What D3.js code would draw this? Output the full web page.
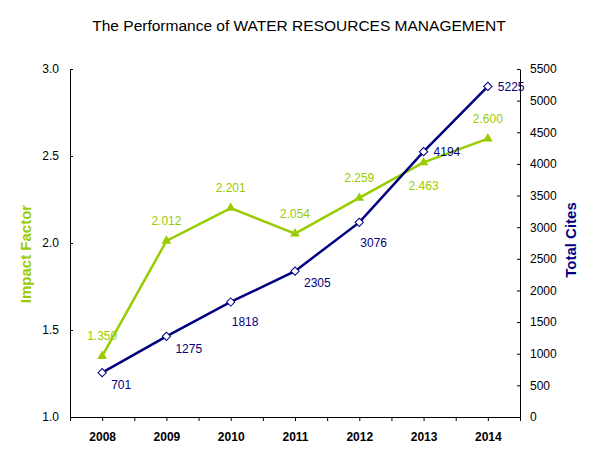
<!DOCTYPE html>
<html>
<head>
<meta charset="utf-8">
<script src="https://cdn.jsdelivr.net/npm/d3@7/dist/d3.min.js"></script>
<style>
  body { margin: 0; background: #fff; }
  svg { font-family: "Liberation Sans", Arial, sans-serif; }
</style>
</head>
<body>
<div id="chart"></div>
<script>

// Chart data
var years = ["2008", "2009", "2010", "2011", "2012", "2013", "2014"];
var impactFactor = [1.350, 2.012, 2.201, 2.054, 2.259, 2.463, 2.600];
var totalCites = [701, 1275, 1818, 2305, 3076, 4194, 5225];
var leftTicks = [1.0, 1.5, 2.0, 2.5, 3.0];
var rightTicks = [0, 500, 1000, 1500, 2000, 2500, 3000, 3500, 4000, 4500, 5000, 5500];

var green = "#99cc00";
var navy = "#000080";

var width = 599, height = 463;
var plotLeft = 70, plotRight = 520, plotTop = 69, plotBottom = 417;

var svg = d3.select("#chart").append("svg")
    .attr("width", width)
    .attr("height", height);

// Scales
var x = d3.scaleLinear().domain([-0.5, years.length - 0.5]).range([plotLeft, plotRight]);
var yLeft = d3.scaleLinear().domain([1, 3]).range([plotBottom, plotTop]);
var yRight = d3.scaleLinear().domain([0, 5500]).range([plotBottom, plotTop]);

// Title
svg.append("text")
    .attr("x", 299)
    .attr("y", 31)
    .attr("text-anchor", "middle")
    .style("font-size", "15.5px")
    .text("The Performance of WATER RESOURCES MANAGEMENT");

// Bottom axis: ticks at category edges and centres
var xAxis = d3.axisBottom(x)
    .tickValues(d3.range(-0.5, years.length, 0.5))
    .tickFormat(d => Number.isInteger(d) ? years[d] : "")
    .tickSizeInner(4)
    .tickSizeOuter(0)
    .tickPadding(11);

svg.append("g")
    .attr("transform", `translate(0,${plotBottom})`)
    .call(xAxis)
    .call(g => g.selectAll("text").style("font-size", "12px").style("font-weight", "bold"));

// Left axis
var leftAxis = d3.axisLeft(yLeft)
    .tickValues(leftTicks)
    .tickFormat(d3.format(".1f"))
    .tickSizeInner(-3)
    .tickSizeOuter(0)
    .tickPadding(11);

svg.append("g")
    .attr("transform", `translate(${plotLeft},0)`)
    .call(leftAxis)
    .call(g => g.selectAll("text").style("font-size", "12px"));

// Right axis
var rightAxis = d3.axisRight(yRight)
    .tickValues(rightTicks)
    .tickFormat(d3.format("d"))
    .tickSizeInner(-3)
    .tickSizeOuter(0)
    .tickPadding(10);

svg.append("g")
    .attr("transform", `translate(${plotRight},0)`)
    .call(rightAxis)
    .call(g => g.selectAll("text").style("font-size", "12px"));

svg.selectAll(".domain, .tick line").attr("stroke", "#000");
svg.selectAll(".tick text").attr("fill", "#000");

// Axis titles
svg.append("text")
    .attr("transform", "translate(31,254) rotate(-90)")
    .attr("text-anchor", "middle")
    .attr("fill", green)
    .style("font-size", "15px")
    .style("font-weight", "bold")
    .text("Impact Factor");

svg.append("text")
    .attr("transform", "translate(576,240) rotate(-90)")
    .attr("text-anchor", "middle")
    .attr("fill", navy)
    .style("font-size", "15px")
    .style("font-weight", "bold")
    .text("Total Cites");

// Impact Factor line
var lineLeft = d3.line()
    .x((d, i) => x(i))
    .y(d => yLeft(d));

svg.append("path")
    .datum(impactFactor)
    .attr("d", lineLeft)
    .attr("fill", "none")
    .attr("stroke", green)
    .attr("stroke-width", 2.5);

svg.selectAll(".tri")
    .data(impactFactor)
    .enter().append("path")
    .attr("class", "tri")
    .attr("d", d3.symbol().type(d3.symbolTriangle).size(40))
    .attr("transform", (d, i) => `translate(${x(i)},${yLeft(d)})`)
    .attr("fill", green);

// Total Cites line
var lineRight = d3.line()
    .x((d, i) => x(i))
    .y(d => yRight(d));

svg.append("path")
    .datum(totalCites)
    .attr("d", lineRight)
    .attr("fill", "none")
    .attr("stroke", navy)
    .attr("stroke-width", 2.5);

svg.selectAll(".dia")
    .data(totalCites)
    .enter().append("path")
    .attr("class", "dia")
    .attr("d", d3.symbol().type(d3.symbolSquare).size(34))
    .attr("transform", (d, i) => `translate(${x(i)},${yRight(d)}) rotate(45)`)
    .attr("fill", "#fff")
    .attr("stroke", navy)
    .attr("stroke-width", 1);

// Data labels: green above (2013 below), navy below-right (last two to the right)
svg.selectAll(".ifLabel")
    .data(impactFactor)
    .enter().append("text")
    .attr("class", "ifLabel")
    .attr("x", (d, i) => x(i))
    .attr("y", (d, i) => yLeft(d) + (i === 5 ? 23 : -20))
    .attr("dy", "0.35em")
    .attr("text-anchor", "middle")
    .attr("fill", green)
    .style("font-size", "12px")
    .text(d => d3.format(".3f")(d));

svg.selectAll(".tcLabel")
    .data(totalCites)
    .enter().append("text")
    .attr("class", "tcLabel")
    .attr("x", (d, i) => x(i) + (i >= 5 ? 10 : (i === 2 || i === 4 ? 1 : 9)))
    .attr("y", (d, i) => yRight(d) + (i >= 5 ? 0 : (i === 2 || i === 4 ? 20 : 12)))
    .attr("dy", "0.35em")
    .attr("fill", navy)
    .style("font-size", "12px")
    .text(d => d);

</script>
</body>
</html>
